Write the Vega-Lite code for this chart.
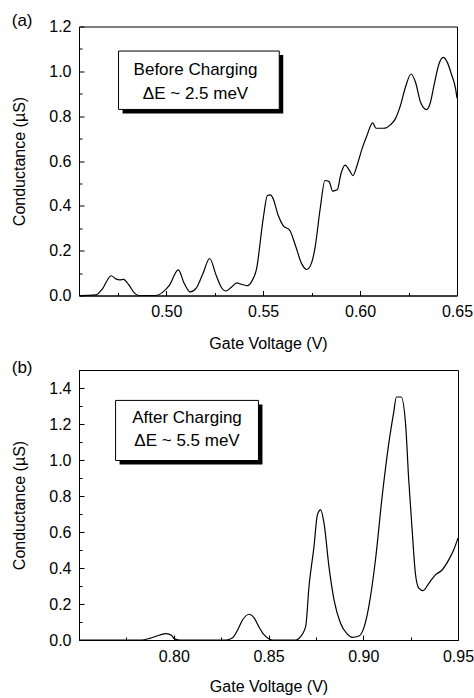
{
  "$schema": "https://vega.github.io/schema/vega-lite/v6.json",
  "padding": {"left": 11, "top": 10.5, "right": 0, "bottom": 0},
  "background": "white",
  "config": {
    "font": "Liberation Sans",
    "view": {"stroke": "black", "strokeWidth": 1},
    "axis": {"domainColor": "black", "tickColor": "black", "labelColor": "black", "titleColor": "black", "labelFont": "Liberation Sans", "titleFont": "Liberation Sans", "labelFontSize": 16, "titleFontSize": 16, "titleFontWeight": "normal", "grid": false, "labelFlush": false, "labelOverlap": false, "tickCount": 40},
    "title": {"fontSize": 17, "fontWeight": "normal", "anchor": "start", "frame": "bounds", "color": "black", "font": "Liberation Sans"},
    "concat": {"spacing": 6.5}
  },
  "datasets": {
    "a": [
      {"V": 0.455, "G": 0}, {"V": 0.4637, "G": 0.003}, {"V": 0.4671, "G": 0.03}, {"V": 0.4716, "G": 0.088}, {"V": 0.474, "G": 0.074},
      {"V": 0.4761, "G": 0.07}, {"V": 0.4779, "G": 0.072}, {"V": 0.4809, "G": 0.045}, {"V": 0.4835, "G": 0.012}, {"V": 0.4861, "G": 0},
      {"V": 0.4947, "G": 0}, {"V": 0.4982, "G": 0.015}, {"V": 0.5016, "G": 0.045}, {"V": 0.5062, "G": 0.114}, {"V": 0.5094, "G": 0.052},
      {"V": 0.5124, "G": 0.016}, {"V": 0.5155, "G": 0.033}, {"V": 0.5189, "G": 0.097}, {"V": 0.5224, "G": 0.165}, {"V": 0.5258, "G": 0.089},
      {"V": 0.5284, "G": 0.037}, {"V": 0.5307, "G": 0.02}, {"V": 0.5336, "G": 0.037}, {"V": 0.5364, "G": 0.056}, {"V": 0.5388, "G": 0.05},
      {"V": 0.542, "G": 0.044}, {"V": 0.544, "G": 0.062}, {"V": 0.5466, "G": 0.119}, {"V": 0.55, "G": 0.342}, {"V": 0.5522, "G": 0.446},
      {"V": 0.5538, "G": 0.449}, {"V": 0.5552, "G": 0.431}, {"V": 0.5578, "G": 0.357}, {"V": 0.5603, "G": 0.312}, {"V": 0.5638, "G": 0.29},
      {"V": 0.5664, "G": 0.23}, {"V": 0.5699, "G": 0.141}, {"V": 0.5725, "G": 0.116}, {"V": 0.5751, "G": 0.149}, {"V": 0.5768, "G": 0.215},
      {"V": 0.5794, "G": 0.386}, {"V": 0.5819, "G": 0.513}, {"V": 0.584, "G": 0.508}, {"V": 0.5859, "G": 0.465}, {"V": 0.5868, "G": 0.468},
      {"V": 0.5883, "G": 0.473}, {"V": 0.5901, "G": 0.542}, {"V": 0.5923, "G": 0.582}, {"V": 0.5946, "G": 0.557}, {"V": 0.5963, "G": 0.535},
      {"V": 0.5984, "G": 0.579}, {"V": 0.601, "G": 0.654}, {"V": 0.6035, "G": 0.713}, {"V": 0.6065, "G": 0.77}, {"V": 0.6082, "G": 0.746},
      {"V": 0.6104, "G": 0.746}, {"V": 0.613, "G": 0.747}, {"V": 0.6156, "G": 0.761}, {"V": 0.6182, "G": 0.788}, {"V": 0.6208, "G": 0.847},
      {"V": 0.6234, "G": 0.929}, {"V": 0.6263, "G": 0.988}, {"V": 0.6286, "G": 0.951}, {"V": 0.6312, "G": 0.862}, {"V": 0.6343, "G": 0.829},
      {"V": 0.6363, "G": 0.862}, {"V": 0.6381, "G": 0.936}, {"V": 0.6407, "G": 1.033}, {"V": 0.6429, "G": 1.062}, {"V": 0.645, "G": 1.04},
      {"V": 0.6471, "G": 0.988}, {"V": 0.6493, "G": 0.921}, {"V": 0.65, "G": 0.88}
    ],
    "b": [
      {"V": 0.7504, "G": 0}, {"V": 0.783, "G": 0}, {"V": 0.7873, "G": 0.009}, {"V": 0.7926, "G": 0.028}, {"V": 0.7961, "G": 0.035},
      {"V": 0.7988, "G": 0.026}, {"V": 0.8004, "G": 0.006}, {"V": 0.803, "G": 0}, {"V": 0.8275, "G": 0}, {"V": 0.8311, "G": 0.013},
      {"V": 0.8337, "G": 0.056}, {"V": 0.8363, "G": 0.111}, {"V": 0.8398, "G": 0.143}, {"V": 0.8425, "G": 0.121}, {"V": 0.8451, "G": 0.07},
      {"V": 0.8477, "G": 0.028}, {"V": 0.8504, "G": 0.006}, {"V": 0.8521, "G": 0}, {"V": 0.8644, "G": 0}, {"V": 0.8662, "G": 0.01},
      {"V": 0.8696, "G": 0.074}, {"V": 0.8714, "G": 0.3}, {"V": 0.874, "G": 0.519}, {"V": 0.8758, "G": 0.695}, {"V": 0.8775, "G": 0.723},
      {"V": 0.8793, "G": 0.649}, {"V": 0.8819, "G": 0.408}, {"V": 0.8846, "G": 0.222}, {"V": 0.888, "G": 0.093}, {"V": 0.8916, "G": 0.033},
      {"V": 0.8942, "G": 0.015}, {"V": 0.8977, "G": 0.022}, {"V": 0.9004, "G": 0.07}, {"V": 0.903, "G": 0.19}, {"V": 0.9065, "G": 0.45},
      {"V": 0.91, "G": 0.8}, {"V": 0.9135, "G": 1.094}, {"V": 0.916, "G": 1.26}, {"V": 0.9175, "G": 1.35}, {"V": 0.92, "G": 1.35},
      {"V": 0.9223, "G": 1.205}, {"V": 0.924, "G": 0.89}, {"V": 0.9258, "G": 0.612}, {"V": 0.9275, "G": 0.371}, {"V": 0.9293, "G": 0.288},
      {"V": 0.9316, "G": 0.274}, {"V": 0.9346, "G": 0.315}, {"V": 0.9381, "G": 0.362}, {"V": 0.9416, "G": 0.389}, {"V": 0.9451, "G": 0.445},
      {"V": 0.9477, "G": 0.5}, {"V": 0.95, "G": 0.566}
    ]
  },
  "vconcat": [
    {
      "title": {"text": "(a)", "offset": -11},
      "width": 378,
      "height": 269,
      "layer": [
        {
          "data": {"name": "a"},
          "mark": {"type": "line", "color": "black", "strokeWidth": 1.2, "interpolate": "monotone"},
          "encoding": {
            "x": {"field": "V", "type": "quantitative", "scale": {"domain": [0.455, 0.65], "nice": false, "zero": false},
              "axis": {"title": "Gate Voltage (V)", "values": [0.475, 0.5, 0.525, 0.55, 0.575, 0.6, 0.625, 0.65], "tickCount": 40,
                "labelExpr": "round(datum.value*1000) % 50 === 0 ? format(datum.value, '.2f') : ''",
                "tickSize": {"condition": {"test": "round(datum.value*1000) % 50 === 0", "value": -5}, "value": -3},
                "labelOverlap": false, "labelPadding": 13, "titlePadding": 13.5}},
            "y": {"field": "G", "type": "quantitative", "scale": {"domain": [0, 1.2], "nice": false},
              "axis": {"title": "Conductance (µS)", "values": [0, 0.1, 0.2, 0.3, 0.4, 0.5, 0.6, 0.7, 0.8, 0.9, 1.0, 1.1, 1.2], "tickCount": 40,
                "labelExpr": "round(datum.value*10) % 2 === 0 ? format(datum.value, '.1f') : ''",
                "tickSize": {"condition": {"test": "round(datum.value*10) % 2 === 0", "value": -5}, "value": -3},
                "labelOverlap": false, "labelPadding": 13, "titlePadding": 21}}
          }
        },
        {
          "data": {"values": [{}]},
          "mark": {"type": "rect", "color": "black", "xOffset": 4, "x2Offset": 4, "yOffset": 4, "y2Offset": 4},
          "encoding": {"x": {"datum": 0.4754, "type": "quantitative"}, "x2": {"datum": 0.5583}, "y": {"datum": 1.0906, "type": "quantitative"}, "y2": {"datum": 0.83}}
        },
        {
          "data": {"values": [{}]},
          "mark": {"type": "rect", "fill": "white", "stroke": "black", "strokeWidth": 1},
          "encoding": {"x": {"datum": 0.4754, "type": "quantitative"}, "x2": {"datum": 0.5583}, "y": {"datum": 1.0906, "type": "quantitative"}, "y2": {"datum": 0.83}}
        },
        {
          "data": {"values": [{}]},
          "mark": {"type": "text", "fontSize": 17, "lineHeight": 23.5, "align": "center", "baseline": "middle", "color": "black", "font": "Liberation Sans"},
          "encoding": {"x": {"datum": 0.5151, "type": "quantitative"}, "y": {"datum": 1.0045, "type": "quantitative"}, "text": {"value": ["Before Charging", "ΔE ~ 2.5 meV"]}}
        }
      ]
    },
    {
      "title": {"text": "(b)", "offset": -14.5},
      "width": 379,
      "height": 270,
      "layer": [
        {
          "data": {"name": "b"},
          "mark": {"type": "line", "color": "black", "strokeWidth": 1.2, "interpolate": "monotone"},
          "encoding": {
            "x": {"field": "V", "type": "quantitative", "scale": {"domain": [0.75, 0.95], "nice": false, "zero": false},
              "axis": {"title": "Gate Voltage (V)", "values": [0.775, 0.8, 0.825, 0.85, 0.875, 0.9, 0.925, 0.95], "tickCount": 40,
                "labelExpr": "round(datum.value*1000) % 50 === 0 ? format(datum.value, '.2f') : ''",
                "tickSize": {"condition": {"test": "round(datum.value*1000) % 50 === 0", "value": -5}, "value": -3},
                "labelOverlap": false, "labelPadding": 13, "titlePadding": 12}},
            "y": {"field": "G", "type": "quantitative", "scale": {"domain": [0, 1.5], "nice": false},
              "axis": {"title": "Conductance (µS)", "values": [0, 0.1, 0.2, 0.3, 0.4, 0.5, 0.6, 0.7, 0.8, 0.9, 1.0, 1.1, 1.2, 1.3, 1.4, 1.5], "tickCount": 40,
                "labelExpr": "round(datum.value*10) % 2 === 0 ? format(datum.value, '.1f') : ''",
                "tickSize": {"condition": {"test": "round(datum.value*10) % 2 === 0", "value": -5}, "value": -3},
                "labelOverlap": false, "labelPadding": 13, "titlePadding": 21}}
          }
        },
        {
          "data": {"values": [{}]},
          "mark": {"type": "rect", "color": "black", "xOffset": 4, "x2Offset": 4, "yOffset": 4, "y2Offset": 4},
          "encoding": {"x": {"datum": 0.7693, "type": "quantitative"}, "x2": {"datum": 0.8447}, "y": {"datum": 1.331, "type": "quantitative"}, "y2": {"datum": 0.997}}
        },
        {
          "data": {"values": [{}]},
          "mark": {"type": "rect", "fill": "white", "stroke": "black", "strokeWidth": 1},
          "encoding": {"x": {"datum": 0.7693, "type": "quantitative"}, "x2": {"datum": 0.8447}, "y": {"datum": 1.331, "type": "quantitative"}, "y2": {"datum": 0.997}}
        },
        {
          "data": {"values": [{}]},
          "mark": {"type": "text", "fontSize": 17, "lineHeight": 23.5, "align": "center", "baseline": "middle", "color": "black", "font": "Liberation Sans"},
          "encoding": {"x": {"datum": 0.807, "type": "quantitative"}, "y": {"datum": 1.235, "type": "quantitative"}, "text": {"value": ["After Charging", "ΔE ~ 5.5 meV"]}}
        }
      ]
    }
  ]
}
